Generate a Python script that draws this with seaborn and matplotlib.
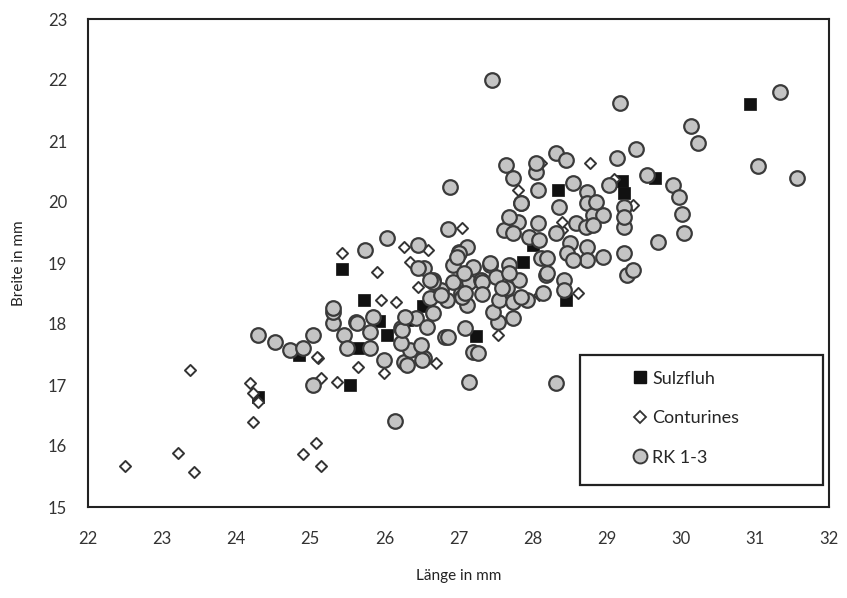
import matplotlib
matplotlib.use("Agg")
import matplotlib.pyplot as plt
import seaborn as sns
from matplotlib.patches import Rectangle

# Sulzfluh (black squares)
sulz_x = [24.3, 24.85, 25.43, 25.53, 25.72, 25.64, 25.93, 26.04, 26.3, 26.52,
          27.23, 27.87, 28.0, 28.34, 28.45, 29.2, 29.23, 29.65, 30.93]
sulz_y = [16.8, 17.5, 18.9, 17.0, 18.4, 17.6, 18.05, 17.82, 18.07, 18.3,
          17.8, 19.02, 19.3, 20.2, 18.4, 20.35, 20.15, 20.4, 21.6]

# Conturines (white diamonds)
cont_x = [22.5, 23.22, 23.43, 23.38, 24.18, 24.22, 24.3, 24.23, 24.9, 25.08,
          25.15, 25.11, 25.14, 25.36, 25.43, 25.9, 25.95, 26.15, 26.46, 26.26,
          26.59, 26.35, 25.09, 25.65, 26.69, 25.99, 27.05, 28.78, 27.53, 28.08,
          28.61, 28.14, 28.4, 29.35, 27.8, 28.12, 29.1, 28.4]
cont_y = [15.68, 15.88, 15.57, 17.25, 17.03, 16.87, 16.72, 16.4, 15.87, 16.05,
          15.68, 17.44, 17.11, 17.05, 19.16, 18.86, 18.39, 18.36, 18.61, 19.26,
          19.21, 19.02, 17.46, 17.3, 17.36, 17.2, 19.57, 20.64, 17.82, 18.48,
          18.51, 18.51, 19.54, 19.95, 20.2, 20.64, 20.37, 19.67]

# RK 1-3 (grey circles)
rk_x = [24.3, 24.53, 24.73, 24.9, 25.04, 25.03, 25.3, 25.31, 25.61, 25.84,
        25.81, 25.45, 25.5, 25.81, 25.99, 26.26, 26.53, 26.35, 26.22, 26.42,
        26.22, 26.49, 26.82, 27.09, 27.2, 27.53, 26.66, 26.85, 27.12, 27.46,
        26.76, 27.03, 26.66, 26.92, 27.14, 27.3, 26.53, 26.93, 27.2, 27.43,
        27.0, 27.12, 26.45, 25.74, 26.04, 26.86, 26.88, 27.45, 27.14, 26.14,
        28.32, 26.51, 26.31, 25.31, 25.63, 26.24, 26.28, 26.62, 26.45, 26.65,
        27.61, 27.8, 28.07, 27.84, 27.73, 27.95, 28.11, 28.18, 27.0, 27.43,
        27.68, 26.62, 27.32, 27.81, 27.66, 26.76, 27.05, 27.54, 27.93, 26.86,
        27.74, 27.26, 26.58, 27.5, 27.32, 27.73,
        29.39, 29.14, 29.54, 29.89, 29.97, 30.01, 30.04, 29.69, 29.23, 29.28,
        29.36, 28.32, 28.45, 27.64, 28.04, 28.04, 27.73, 28.07, 28.54, 28.74,
        29.03, 29.23, 29.23, 29.23, 27.84, 28.35, 28.74, 28.82, 28.95, 28.58,
        28.72, 28.31, 27.68, 28.08, 28.51, 28.74, 28.95, 28.74, 28.47, 28.54,
        28.2, 28.2, 28.42, 28.42, 28.14, 27.68, 26.98, 27.07, 27.59, 27.84,
        27.09, 28.85, 28.82, 29.18, 31.34, 30.14, 30.23, 31.04, 31.57]
rk_y = [17.82, 17.7, 17.58, 17.6, 17.82, 17.0, 18.02, 18.2, 18.03, 18.11,
        17.87, 17.82, 17.61, 17.61, 17.41, 17.38, 17.44, 17.57, 17.93, 18.1,
        17.69, 17.66, 17.79, 17.93, 17.54, 18.03, 18.18, 18.39, 18.31, 18.2,
        18.56, 18.51, 18.72, 18.69, 18.69, 18.72, 18.92, 18.97, 18.93, 18.97,
        19.18, 19.26, 19.3, 19.21, 19.41, 19.56, 20.25, 22.0, 17.05, 16.41,
        17.03, 17.41, 17.33, 18.26, 18.02, 17.9, 18.11, 18.43, 18.92, 18.69,
        19.54, 19.67, 19.66, 19.98, 19.49, 19.43, 19.08, 18.8, 19.16, 19.0,
        18.97, 18.72, 18.69, 18.72, 18.59, 18.48, 18.44, 18.39, 18.39, 17.79,
        18.1, 17.52, 17.95, 18.77, 18.49, 18.36,
        20.87, 20.72, 20.44, 20.28, 20.08, 19.8, 19.5, 19.34, 19.16, 18.8,
        18.89, 20.8, 20.69, 20.6, 20.49, 20.64, 20.39, 20.2, 20.31, 20.16,
        20.28, 19.92, 19.59, 19.75, 19.98, 19.92, 19.98, 19.79, 19.79, 19.66,
        19.59, 19.49, 19.75, 19.38, 19.33, 19.26, 19.1, 19.05, 19.16, 19.05,
        19.08, 18.84, 18.72, 18.56, 18.51, 18.84, 19.1, 18.84, 18.59, 18.44,
        18.51, 20.0, 19.62, 21.62, 21.8, 21.25, 20.97, 20.59, 20.39]

sns.set_style("white")
plt.rcParams["font.family"] = ["Lato", "DejaVu Sans"]

fig = plt.figure(figsize=(8.47, 5.98), dpi=100)
ax = fig.add_axes([88 / 847, 1 - 507 / 598, (829 - 88) / 847, (507 - 19) / 598])

sns.scatterplot(x=sulz_x, y=sulz_y, marker="s", s=80, color="#111111",
                edgecolor="#111111", linewidth=0.5, ax=ax, zorder=2)
sns.scatterplot(x=cont_x, y=cont_y, marker="D", s=32, color="white",
                edgecolor="#333333", linewidth=1.4, ax=ax, zorder=3)
sns.scatterplot(x=rk_x, y=rk_y, marker="o", s=110, color="#c4c4c4",
                edgecolor="#3a3a3a", linewidth=1.6, ax=ax, zorder=4)

ax.set_xlim(22, 32)
ax.set_ylim(15, 23)
ax.set_xticks(range(22, 33))
ax.set_yticks(range(15, 24))
ax.tick_params(axis="both", direction="out", length=5, width=1,
               labelsize=12, colors="#333333", pad=10)
ax.tick_params(axis="x", pad=12)
for side in ["left", "right", "top", "bottom"]:
    ax.spines[side].set_color("#222222")
    ax.spines[side].set_linewidth(1.5)

ax.set_xlabel("Länge in mm", fontsize=11, color="#222222", labelpad=16)
ax.set_ylabel("Breite in mm", fontsize=11, color="#222222", labelpad=16)

# legend box
ax.add_patch(Rectangle((0.664, 0.045), 0.328, 0.266, transform=ax.transAxes,
                       facecolor="white", edgecolor="#222222", linewidth=1.6,
                       zorder=5))
h1 = plt.Line2D([], [], marker="s", ls="", color="#111111", markersize=8)
h2 = plt.Line2D([], [], marker="D", ls="", markerfacecolor="white",
                markeredgecolor="#333333", markeredgewidth=1.3, markersize=6)
h3 = plt.Line2D([], [], marker="o", ls="", markerfacecolor="#c4c4c4",
                markeredgecolor="#3a3a3a", markeredgewidth=1.4, markersize=10)
leg = ax.legend([h1, h2, h3], ["Sulzfluh", "Conturines", "RK 1-3"],
                loc="center left", bbox_to_anchor=(0.735, 0.182),
                frameon=False, fontsize=13, labelspacing=1.3,
                handlelength=0.8, handletextpad=0.3, borderpad=0,
                borderaxespad=0)
leg.set_zorder(6)

fig.savefig("out.png", dpi=100)
